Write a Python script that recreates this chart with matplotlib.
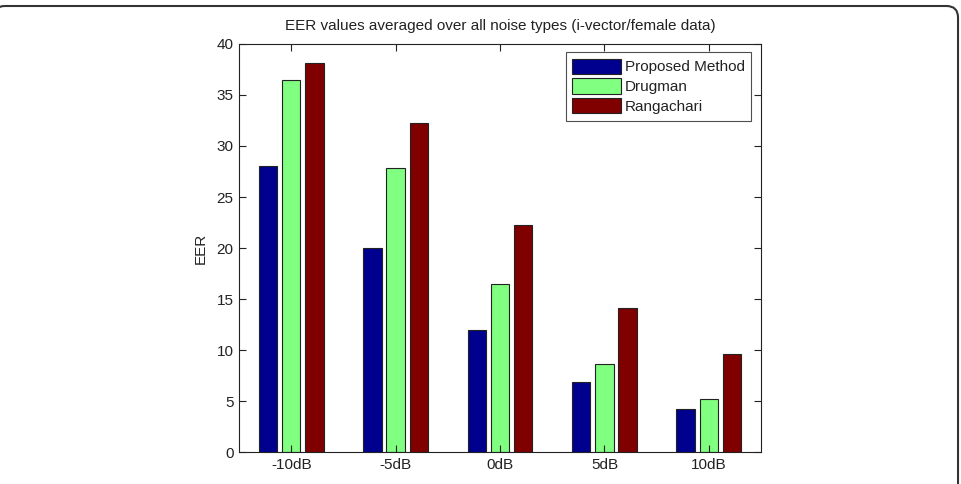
import matplotlib
matplotlib.use("Agg")
import matplotlib.pyplot as plt
import numpy as np
from matplotlib.patches import FancyBboxPatch

plt.rcParams['font.family'] = ['Liberation Sans', 'DejaVu Sans']

categories = ['-10dB', '-5dB', '0dB', '5dB', '10dB']
series_names = ['Proposed Method', 'Drugman', 'Rangachari']
proposed = [28.0, 20.0, 12.0, 6.9, 4.2]
drugman = [36.5, 27.8, 16.45, 8.6, 5.15]
rangachari = [38.1, 32.25, 22.25, 14.1, 9.65]
colors = ['#00008f', '#80ff80', '#800000']
title = 'EER values averaged over all noise types (i-vector/female data)'
yticks = [0, 5, 10, 15, 20, 25, 30, 35, 40]

FS = 11

fig = plt.figure(figsize=(9.61, 4.84), dpi=100)
fig.patch.set_facecolor('white')

# rounded frame (cropped by the image edges)
frame = FancyBboxPatch((-0.007, -0.2), 1.0039, 1.1876, boxstyle='round,pad=0,rounding_size=0.012',
                       transform=fig.transFigure, fill=False, edgecolor='#333333', linewidth=1.5,
                       clip_on=False, mutation_aspect=961/484)
fig.patches.append(frame)

ax = fig.add_axes([0.2487, 0.0661, 0.5432, 0.843])
x = np.arange(1, len(categories) + 1)
slot = (3 / 4.5) / 3
bw = 0.8 * slot
for i, (vals, c, name) in enumerate(zip([proposed, drugman, rangachari], colors, series_names)):
    ax.bar(x + (i - 1) * slot, vals, width=bw, color=c, edgecolor='#222222', linewidth=0.8, label=name)

ax.set_xlim(0.5, 5.5)
ax.set_ylim(0, 40)
ax.set_xticks(x)
ax.set_xticklabels(categories)
ax.set_yticks(yticks)
ax.tick_params(direction='in', top=True, right=True, labelsize=FS, length=5, width=0.8, colors='#222222', pad=4)
for t in ax.get_xticklabels() + ax.get_yticklabels():
    t.set_color('#222222')
for s in ax.spines.values():
    s.set_linewidth(0.8)
    s.set_color('#222222')
ax.set_ylabel('EER', fontsize=FS, color='#222222', labelpad=6)
ax.set_title(title, fontsize=FS, color='#222222', pad=10)

leg = ax.legend(loc='upper right', fontsize=FS, frameon=True, fancybox=False, edgecolor='#222222',
                handlelength=3.2, handleheight=1.15, labelspacing=0.27, borderpad=0.42,
                handletextpad=0.25, bbox_to_anchor=(0.981, 0.980), borderaxespad=0)
leg.get_frame().set_linewidth(0.8)
for t in leg.get_texts():
    t.set_color('#222222')

fig.savefig('out.png', dpi=100, facecolor='white')
